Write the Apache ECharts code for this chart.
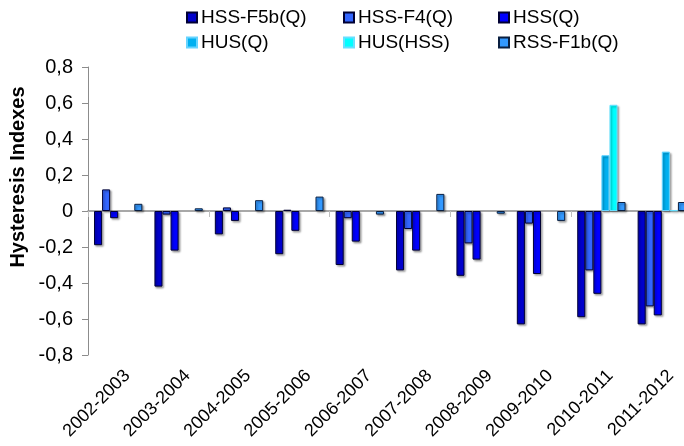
<!DOCTYPE html>
<html>
<head>
<meta charset="utf-8">
<script src="https://cdn.jsdelivr.net/npm/echarts@6/dist/echarts.min.js"></script>
<style>
  html, body { margin: 0; padding: 0; background: #fff; }
  #chart { width: 684px; height: 446px; }
</style>
</head>
<body>
<div id="chart"></div>
<script>
// Seasons on the category axis
const seasons = ['2002-2003', '2003-2004', '2004-2005', '2005-2006', '2006-2007',
                 '2007-2008', '2008-2009', '2009-2010', '2010-2011', '2011-2012'];

// Hysteresis index per season for each indicator (null = not computed)
const hssF5bQ = [-0.19, -0.42, -0.13, -0.24, -0.30, -0.33, -0.36, -0.63, -0.59, -0.63];
const hssF4Q  = [0.12, -0.02, 0.02, 0.007, -0.04, -0.10, -0.18, -0.07, -0.33, -0.53];
const hssQ    = [-0.04, -0.22, -0.055, -0.11, -0.17, -0.22, -0.27, -0.35, -0.46, -0.58];
const husQ    = [null, null, null, null, null, null, null, null, 0.31, 0.33];
const husHss  = [null, null, null, null, null, null, null, null, 0.59, 0.004];
const rssF1bQ = [0.04, 0.015, 0.06, 0.08, -0.02, 0.095, -0.015, -0.055, 0.05, 0.05];

// Y-axis tick range
const yMin = -0.8, yMax = 0.8, yStep = 0.2;

const FONT = '"Liberation Sans", Arial, sans-serif';

const seriesDefs = [
  { name: 'HSS-F5b(Q)', data: hssF5bQ, color: '#0000CC', border: '#000033' },
  { name: 'HSS-F4(Q)',  data: hssF4Q,  color: '#3366FF', border: '#000033' },
  { name: 'HSS(Q)',     data: hssQ,    color: '#0000FF', border: '#000033' },
  { name: 'HUS(Q)',     data: husQ,    color: '#00B0F0', border: '#66D4FF' },
  { name: 'HUS(HSS)',   data: husHss,  color: '#00FFFF', border: '#66E0FF' },
  { name: 'RSS-F1b(Q)', data: rssF1bQ, color: '#3399FF', border: '#0A1F40' }
];

// Legend: two rows of three entries
const legendPos = [
  { left: 186, top: 8 }, { left: 343, top: 8 }, { left: 498, top: 8 },
  { left: 186, top: 33 }, { left: 343, top: 33 }, { left: 498, top: 33 }
];

const chart = echarts.init(document.getElementById('chart'), null, { renderer: 'canvas' });

chart.setOption({
  animation: false,
  backgroundColor: '#ffffff',
  grid: [
    { left: 88, top: 67, width: 604, height: 288, containLabel: false, outerBoundsMode: 'none' },
    // same plot area, nudged right, only carries the rotated season labels
    { left: 97, top: 67, width: 604, height: 288, containLabel: false, outerBoundsMode: 'none' }
  ],
  legend: seriesDefs.map((s, i) => ({
    data: [{ name: s.name, icon: 'rect' }],
    left: legendPos[i].left,
    top: legendPos[i].top,
    padding: 0,
    itemWidth: 10,
    itemHeight: 10,
    itemGap: 0,
    selectedMode: false,
    itemStyle: { shadowBlur: 0, shadowOffsetX: 0, shadowOffsetY: 0, shadowColor: 'transparent' },
    textStyle: { fontFamily: FONT, fontSize: 19, color: '#000', padding: [0, 0, 0, -1] }
  })),
  graphic: [{
    type: 'text',
    x: 18,
    y: 177,
    rotation: Math.PI / 2,
    style: {
      text: 'Hysteresis Indexes',
      fontFamily: FONT,
      fontSize: 20,
      fontWeight: 'bold',
      fill: '#000',
      align: 'center',
      verticalAlign: 'middle'
    }
  }],
  xAxis: [
    {
      type: 'category',
      gridIndex: 0,
      data: seasons,
      axisLine: { onZero: true, lineStyle: { color: '#8c8c8c', width: 1.5 } },
      axisTick: { show: true, length: 6, inside: false, lineStyle: { color: '#bfbfbf' } },
      axisLabel: { show: false },
      splitLine: { show: false }
    },
    {
      type: 'category',
      gridIndex: 1,
      data: seasons,
      position: 'bottom',
      axisLine: { show: false, onZero: false },
      axisTick: { show: false },
      axisLabel: {
        show: true,
        rotate: 45,
        margin: 18,
        fontFamily: FONT,
        fontSize: 18,
        color: '#000',
        interval: 0
      },
      splitLine: { show: false }
    }
  ],
  yAxis: [
    {
      type: 'value',
      gridIndex: 0,
      min: yMin,
      max: yMax,
      interval: yStep,
      axisLine: { show: true, lineStyle: { color: '#8c8c8c', width: 1 } },
      axisTick: { show: true, length: 6, inside: false, lineStyle: { color: '#8c8c8c' } },
      axisLabel: {
        fontFamily: FONT,
        fontSize: 20,
        color: '#000',
        margin: 15,
        formatter: v => {
          const r = Math.round(v * 10) / 10;
          return r === 0 ? '0' : r.toFixed(1).replace('.', ',');
        }
      },
      splitLine: { show: false }
    },
    {
      type: 'value',
      gridIndex: 1,
      min: yMin,
      max: yMax,
      interval: yStep,
      show: false
    }
  ],
  series: seriesDefs.map(s => ({
    name: s.name,
    type: 'bar',
    xAxisIndex: 0,
    yAxisIndex: 0,
    data: s.data,
    barGap: '0%',
    barCategoryGap: '20%',
    itemStyle: {
      color: s.color,
      borderColor: s.border,
      borderWidth: 1,
      shadowColor: 'rgba(0,0,0,0.35)',
      shadowBlur: 2,
      shadowOffsetX: 1.5,
      shadowOffsetY: 1.5
    }
  }))
});
</script>
</body>
</html>
